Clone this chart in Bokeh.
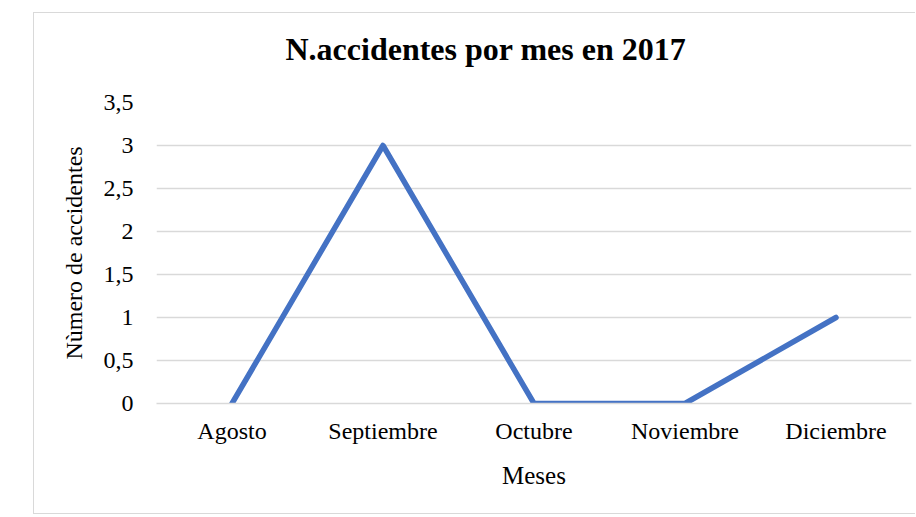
from bokeh.plotting import figure
from bokeh.models import Range1d, FixedTicker, Title
from bokeh.embed import file_html
from bokeh.resources import INLINE

titulo = "N.accidentes por mes en 2017"
meses = ["Agosto", "Septiembre", "Octubre", "Noviembre", "Diciembre"]
accidentes = [0, 3, 0, 0, 1]
y_ticks = [0, 0.5, 1, 1.5, 2, 2.5, 3, 3.5]
y_tick_labels = ["0", "0,5", "1", "1,5", "2", "2,5", "3", "3,5"]

FONT = "Liberation Serif"

p = figure(
    x_range=meses,
    y_range=Range1d(0, 3.5),
    width=882, height=502,
    output_backend="svg",
    toolbar_location=None,
    min_border_left=122, min_border_right=5,
    min_border_top=89, min_border_bottom=112,
)
p.styles = {
    "margin-left": "33px",
    "margin-top": "12px",
    "border-left": "1px solid #d9d9d9",
    "border-top": "1px solid #d9d9d9",
    "border-bottom": "1px solid #d9d9d9",
}

# spacer between the frame and the title, then the title itself
p.add_layout(Title(text=" ", text_font_size="1px", standoff=33), "above")
p.add_layout(Title(text=titulo, align="left", offset=129, standoff=0,
                   text_font=FONT, text_font_size="32px",
                   text_font_style="bold", text_color="#000000"), "above")

p.line(meses, accidentes, line_color="#4472C4", line_width=5.5,
       line_cap="round", line_join="round")

p.outline_line_color = None
p.xgrid.grid_line_color = None
p.ygrid.grid_line_color = "#d9d9d9"
p.ygrid.grid_line_width = 1.3
p.yaxis.ticker = FixedTicker(ticks=y_ticks)
p.yaxis.major_label_overrides = {t: l for t, l in zip(y_ticks, y_tick_labels)}

for ax in (p.xaxis, p.yaxis):
    ax.major_tick_line_color = None
    ax.minor_tick_line_color = None
    ax.major_label_text_font = FONT
    ax.major_label_text_font_size = "24px"
    ax.major_label_text_color = "#000000"
    ax.axis_label_text_font = FONT
    ax.axis_label_text_font_style = "normal"
    ax.axis_label_text_color = "#000000"

p.yaxis.axis_line_color = None
p.yaxis.axis_label = "Nùmero de accidentes"
p.yaxis.axis_label_text_font_size = "24px"
p.yaxis.major_label_standoff = 17
p.yaxis.axis_label_standoff = 14

p.xaxis.axis_line_color = "#d9d9d9"
p.xaxis.axis_line_width = 1.3
p.xaxis.axis_label = "Meses"
p.xaxis.axis_label_text_font_size = "25px"
p.xaxis.major_label_standoff = 8
p.xaxis.axis_label_standoff = 15

open("out.html", "w").write(file_html(p, INLINE))
